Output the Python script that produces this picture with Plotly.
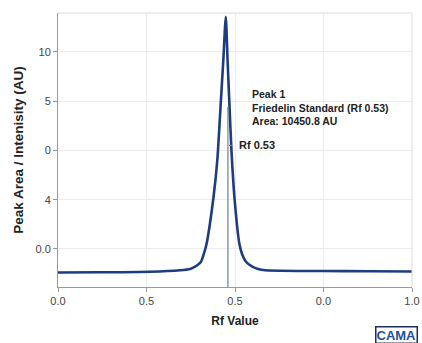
import plotly.graph_objects as go

# Chromatogram trace (x: axis fraction of Rf scale, y: intensity in tick units)
rf = [0.0, 0.119, 0.26, 0.345, 0.373, 0.387, 0.396, 0.404, 0.411, 0.419, 0.440, 0.450,
      0.460, 0.467, 0.474, 0.479, 0.4839, 0.490, 0.499, 0.513, 0.521, 0.531, 0.549,
      0.565, 0.585, 0.684, 0.746, 0.881, 1.0]
intensity = [-0.477, -0.473, -0.462, -0.432, -0.406, -0.359, -0.314, -0.258, -0.12, 0.08,
             1.095, 1.80, 2.99, 3.83, 4.71, 3.83, 2.99, 2.0, 0.994, 0.08, -0.12, -0.258,
             -0.359, -0.406, -0.432, -0.446, -0.446, -0.452, -0.456]

x_tickvals = [0.0, 0.25, 0.5, 0.75, 1.0]
x_ticktext = ["0.0", "0.5", "0.5", "0.0", "1.0"]
y_tickvals = [0, 1, 2, 3, 4]
y_ticktext = ["0.0", "4", "0", "5", "10"]

marker_rf = 0.480
marker_top = 2.88
marker_label_y = 2.1

font = "Arial, Liberation Sans, sans-serif"

fig = go.Figure()
fig.add_trace(go.Scatter(x=rf, y=intensity, mode="lines",
                         line=dict(color="#1e3c80", width=2.6, shape="spline", smoothing=0.6),
                         showlegend=False, hoverinfo="skip"))
# vertical marker line
fig.add_trace(go.Scatter(x=[marker_rf, marker_rf], y=[-0.771, marker_top], mode="lines",
                         line=dict(color="#6f8091", width=1.2), showlegend=False, hoverinfo="skip"))
# small tick to label
fig.add_trace(go.Scatter(x=[marker_rf + 0.003, marker_rf + 0.013], y=[marker_label_y, marker_label_y],
                         mode="lines", line=dict(color="#6f8091", width=1.2),
                         showlegend=False, hoverinfo="skip"))

fig.add_annotation(x=marker_rf + 0.027, y=marker_label_y, xref="x", yref="y",
                   text="<b>Rf 0.53</b>", showarrow=False, xanchor="left", yanchor="middle",
                   font=dict(family=font, size=11, color="#222"))
fig.add_annotation(x=0.543, y=3.30, xref="x", yref="y",
                   text="<b>Peak 1</b><br><b>Friedelin Standard (Rf 0.53)</b><br><b>Area: 10450.8 AU</b>",
                   showarrow=False, xanchor="left", yanchor="top", align="left",
                   font=dict(family=font, size=10.5, color="#222"))
fig.add_annotation(x=0.896, y=-0.1735, xref="paper", yref="paper",
                   text="<b>CAMA</b>", showarrow=False, xanchor="left", yanchor="middle",
                   font=dict(family="Arial Black, Liberation Sans, sans-serif", size=13, color="#1f4f9c"),
                   bordercolor="#1a2f5a", borderwidth=1.5, borderpad=0, bgcolor="white")

fig.update_layout(
    width=422, height=343,
    margin=dict(l=58, r=10, t=13, b=56, autoexpand=False),
    paper_bgcolor="white", plot_bgcolor="white",
    font=dict(family=font, color="#444"),
    xaxis=dict(range=[0, 1], tickvals=x_tickvals, ticktext=x_ticktext,
               showgrid=True, gridcolor="#ececec", gridwidth=1,
               showline=True, linecolor="#9a9a9a", linewidth=1, mirror=False,
               ticks="outside", ticklen=4, tickcolor="#9a9a9a",
               tickfont=dict(size=11, color="#444"), zeroline=False,
               title=dict(text="<b>Rf Value</b>", font=dict(size=12, color="#222"), standoff=10)),
    yaxis=dict(range=[-0.771, 4.787], tickvals=y_tickvals, ticktext=y_ticktext,
               showgrid=True, gridcolor="#ececec", gridwidth=1,
               showline=True, linecolor="#9a9a9a", linewidth=1,
               ticks="outside", ticklen=4, tickcolor="#9a9a9a",
               tickfont=dict(size=11, color="#444"), zeroline=False,
               title=dict(text="<b>Peak Area / Intenisity (AU)</b>", font=dict(size=13.5, color="#222"), standoff=8)),
    shapes=[
        dict(type="line", xref="paper", yref="paper", x0=0, x1=1, y0=1, y1=1,
             line=dict(color="#dcdcdc", width=1)),
        dict(type="line", xref="paper", yref="paper", x0=1, x1=1, y0=0, y1=1,
             line=dict(color="#dcdcdc", width=1)),
    ],
)

fig.write_html("out.html")
